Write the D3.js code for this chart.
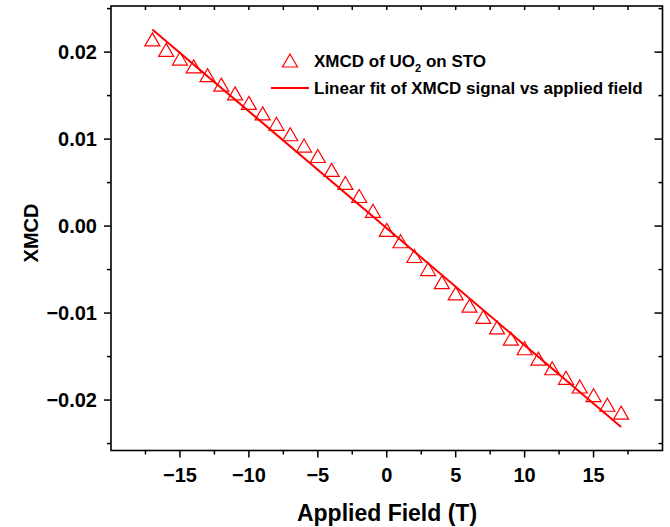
<!DOCTYPE html>
<html>
<head>
<meta charset="utf-8">
<script src="https://cdnjs.cloudflare.com/ajax/libs/d3/7.8.5/d3.min.js"></script>
<style>
  body { margin: 0; background: #fff; }
  text { font-family: "Liberation Sans", Arial, sans-serif; font-weight: bold; fill: #000; }
</style>
</head>
<body>
<script>
// measured data (field in T, XMCD)
var fields = d3.range(-17, 18); // -17 .. 17
var xmcd = [0.0214, 0.0202, 0.0192, 0.0183, 0.0173, 0.0162, 0.0152, 0.0141, 0.0129, 0.0117,
            0.0105, 0.0092, 0.0080, 0.0064, 0.0049, 0.0034, 0.0017, -0.0005, -0.0018, -0.0035,
            -0.0050, -0.0065, -0.0078, -0.0092, -0.0105, -0.0117, -0.0130, -0.0141, -0.0153, -0.0164,
            -0.0175, -0.0185, -0.0195, -0.0206, -0.0215];
// linear fit end points
var fitX = [-17, 17];
var fitY = [0.0226, -0.0231];

var xTicks = [-15, -10, -5, 0, 5, 10, 15];
var yTicks = [0.02, 0.01, 0.00, -0.01, -0.02];

var width = 670, height = 527;
var pLeft = 111, pRight = 662.5, pTop = 6, pBottom = 450.5;

var svg = d3.select("body").append("svg")
    .attr("width", width)
    .attr("height", height);

var x = d3.scaleLinear().domain([-20, 20]).range([pLeft, pRight]);
var y = d3.scaleLinear().domain([-0.0258, 0.0253]).range([pBottom, pTop]);

var fmtX = function(d) { return d < 0 ? "\u2212" + Math.abs(d) : String(d); };
var fmtY = function(d) {
  var s = Math.abs(d).toFixed(2);
  return d < -1e-9 ? "\u2212" + s : s;
};

var xMinor = d3.range(-17.5, 20, 5);
var yMinor = [0.025, 0.015, 0.005, -0.005, -0.015, -0.025];

// bottom axis
var gx = svg.append("g").attr("transform", "translate(0," + pBottom + ")");
gx.selectAll(".maj").data(xTicks).enter().append("line")
    .attr("x1", d => x(d)).attr("x2", d => x(d)).attr("y1", 0).attr("y2", 7)
    .attr("stroke", "#000").attr("stroke-width", 1.5);
gx.selectAll(".min").data(xMinor).enter().append("line")
    .attr("x1", d => x(d)).attr("x2", d => x(d)).attr("y1", 0).attr("y2", 4)
    .attr("stroke", "#000").attr("stroke-width", 1.5);
gx.selectAll("text").data(xTicks).enter().append("text")
    .attr("x", d => x(d)).attr("y", 31)
    .attr("text-anchor", "middle").style("font-size", "20px")
    .text(fmtX);

// top axis (inward ticks)
var gt = svg.append("g").attr("transform", "translate(0," + pTop + ")");
gt.selectAll("line").data(xTicks.concat(xMinor)).enter().append("line")
    .attr("x1", d => x(d)).attr("x2", d => x(d)).attr("y1", 0).attr("y2", 4)
    .attr("stroke", "#000").attr("stroke-width", 1.5);

// left axis
var gy = svg.append("g").attr("transform", "translate(" + pLeft + ",0)");
gy.selectAll(".maj").data(yTicks).enter().append("line")
    .attr("y1", d => y(d)).attr("y2", d => y(d)).attr("x1", 0).attr("x2", -7)
    .attr("stroke", "#000").attr("stroke-width", 1.5);
gy.selectAll(".min").data(yMinor).enter().append("line")
    .attr("y1", d => y(d)).attr("y2", d => y(d)).attr("x1", 0).attr("x2", -4)
    .attr("stroke", "#000").attr("stroke-width", 1.5);
gy.selectAll("text").data(yTicks).enter().append("text")
    .attr("x", -14).attr("y", d => y(d) + 7)
    .attr("text-anchor", "end").style("font-size", "20px")
    .text(fmtY);

// right axis (inward ticks)
var gr = svg.append("g").attr("transform", "translate(" + pRight + ",0)");
gr.selectAll(".maj").data(yTicks).enter().append("line")
    .attr("y1", d => y(d)).attr("y2", d => y(d)).attr("x1", 0).attr("x2", -8)
    .attr("stroke", "#000").attr("stroke-width", 1.5);
gr.selectAll(".min").data(yMinor).enter().append("line")
    .attr("y1", d => y(d)).attr("y2", d => y(d)).attr("x1", 0).attr("x2", -4)
    .attr("stroke", "#000").attr("stroke-width", 1.5);

// frame
svg.append("rect")
    .attr("x", pLeft).attr("y", pTop)
    .attr("width", pRight - pLeft).attr("height", pBottom - pTop)
    .attr("fill", "none").attr("stroke", "#000").attr("stroke-width", 1.6);

// axis titles
svg.append("text")
    .attr("x", 387).attr("y", 521)
    .attr("text-anchor", "middle").style("font-size", "23px")
    .text("Applied Field (T)");
svg.append("text")
    .attr("transform", "translate(38,233) rotate(-90)")
    .attr("text-anchor", "middle").style("font-size", "20px")
    .text("XMCD");

// fit line
var line = d3.line().x(d => x(d[0])).y(d => y(d[1]));
svg.append("path")
    .datum(fitX.map((d, i) => [d, fitY[i]]))
    .attr("d", line)
    .attr("fill", "none").attr("stroke", "#ff0000").attr("stroke-width", 2);

// triangles
var tri = "M0,-7L7.5,6L-7.5,6Z";
svg.append("g").selectAll("path")
    .data(fields.map((d, i) => [d, xmcd[i]]))
    .enter().append("path")
    .attr("d", tri)
    .attr("transform", d => "translate(" + x(d[0]) + "," + y(d[1]) + ")")
    .attr("fill", "none").attr("stroke", "#ff0000").attr("stroke-width", 1.2);

// legend
var lg = svg.append("g");
lg.append("path").attr("d", tri)
    .attr("transform", "translate(290,61)")
    .attr("fill", "none").attr("stroke", "#ff0000").attr("stroke-width", 1.2);
var t1 = lg.append("text").attr("x", 314).attr("y", 67).style("font-size", "17px");
t1.append("tspan").text("XMCD of UO");
t1.append("tspan").attr("dy", 5).style("font-size", "11px").text("2");
t1.append("tspan").attr("dy", -5).text(" on STO");
lg.append("line")
    .attr("x1", 271).attr("x2", 309).attr("y1", 88).attr("y2", 88)
    .attr("stroke", "#ff0000").attr("stroke-width", 2);
lg.append("text").attr("x", 314).attr("y", 94).style("font-size", "17px")
    .text("Linear fit of XMCD signal vs applied field");
</script>
</body>
</html>
